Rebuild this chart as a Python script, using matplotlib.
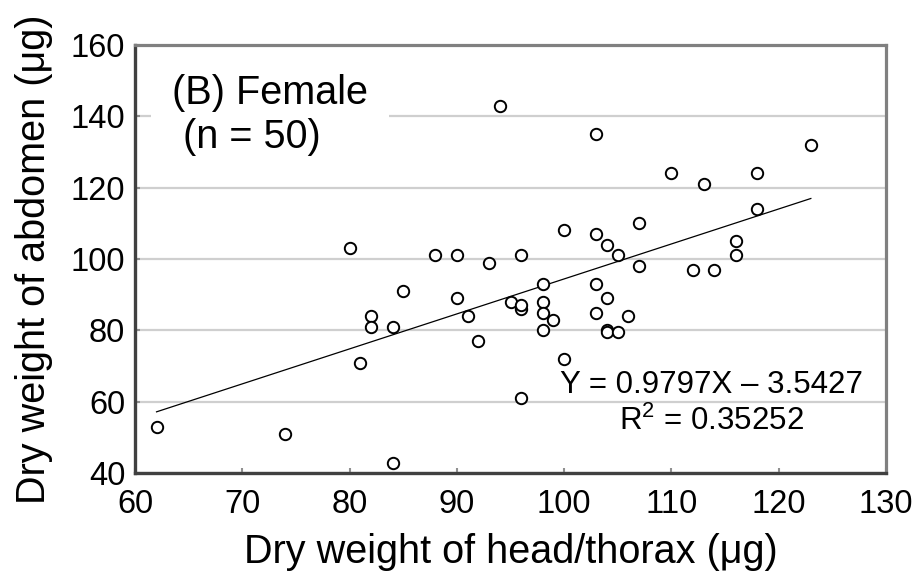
import matplotlib
matplotlib.use('Agg')
import matplotlib.pyplot as plt

plt.rcParams['font.family'] = ['Liberation Sans', 'DejaVu Sans']
plt.rcParams['mathtext.fontset'] = 'custom'
plt.rcParams['mathtext.rm'] = 'Liberation Sans'
plt.rcParams['mathtext.it'] = 'Liberation Sans'

# Female head/thorax vs abdomen dry weight (ug)
head_thorax = [62, 74, 80, 81, 82, 82, 84, 84, 85, 88,
               90, 90, 91, 92, 93, 94, 95, 96, 96, 96,
               96, 98, 98, 98, 98, 99, 100, 100, 103, 103,
               103, 103, 104, 104, 104, 104, 105, 105, 106, 107,
               107, 110, 112, 113, 114, 116, 116, 118, 118, 123]
abdomen = [53, 51, 103, 71, 84, 81, 81, 43, 91, 101,
           101, 89, 84, 77, 99, 143, 88, 86, 87, 101,
           61, 93, 88, 85, 80, 83, 108, 72, 135, 107,
           93, 85, 104, 89, 80, 79.5, 101, 79.5, 84, 110,
           98, 124, 97, 121, 97, 105, 101, 124, 114, 132]

slope = 0.9797
intercept = -3.5427
fit_x = [min(head_thorax), max(head_thorax)]
fit_y = [slope * v + intercept for v in fit_x]

x_ticks = [60, 70, 80, 90, 100, 110, 120, 130]
y_ticks = [40, 60, 80, 100, 120, 140, 160]

fig = plt.figure(figsize=(9.19, 5.75), dpi=100)
ax = fig.add_axes([0.147, 0.177, 0.817, 0.745])

ax.plot(head_thorax, abdomen, linestyle='none', marker='o', ms=8.2,
        mfc='white', mec='black', mew=1.4, zorder=3)
ax.plot(fit_x, fit_y, color='black', lw=0.9, zorder=2)

ax.set_xlim(60, 130)
ax.set_ylim(40, 160)
ax.set_xticks(x_ticks)
ax.set_yticks(y_ticks)
ax.tick_params(direction='in', length=3.5, width=1.5, color='#909090',
               labelsize=23.5)
ax.tick_params(axis='x', pad=11)
ax.tick_params(axis='y', pad=7)

ax.set_axisbelow(True)
ax.yaxis.grid(True, color='#cfcfcf', lw=1.6)

for side in ['left', 'bottom']:
    ax.spines[side].set_color('#404040')
    ax.spines[side].set_linewidth(2.4)
for side in ['top', 'right']:
    ax.spines[side].set_color('#808080')
    ax.spines[side].set_linewidth(2.3)

ax.set_xlabel('Dry weight of head/thorax (μg)', fontsize=28.5, va='baseline')
ax.xaxis.set_label_coords(0.5, -0.21)
ax.set_ylabel('Dry weight of abdomen (μg)', fontsize=28.5, va='baseline')
ax.yaxis.set_label_coords(-0.12, 0.5)

ax.text(63.4, 143.5, '(B) Female', fontsize=28.5, va='baseline', zorder=4,
        bbox=dict(facecolor='white', edgecolor='none', pad=15))
ax.text(64.5, 131.1, '(n = 50)', fontsize=28.5, va='baseline', zorder=5)

ax.text(113.7, 62.4, 'Y = 0.9797X – 3.5427', fontsize=22.5, ha='center', va='baseline')
ax.text(113.7, 52.1, r'R$^{2}$ = 0.35252', fontsize=22.5, ha='center', va='baseline')

fig.savefig('out.png', dpi=100)
